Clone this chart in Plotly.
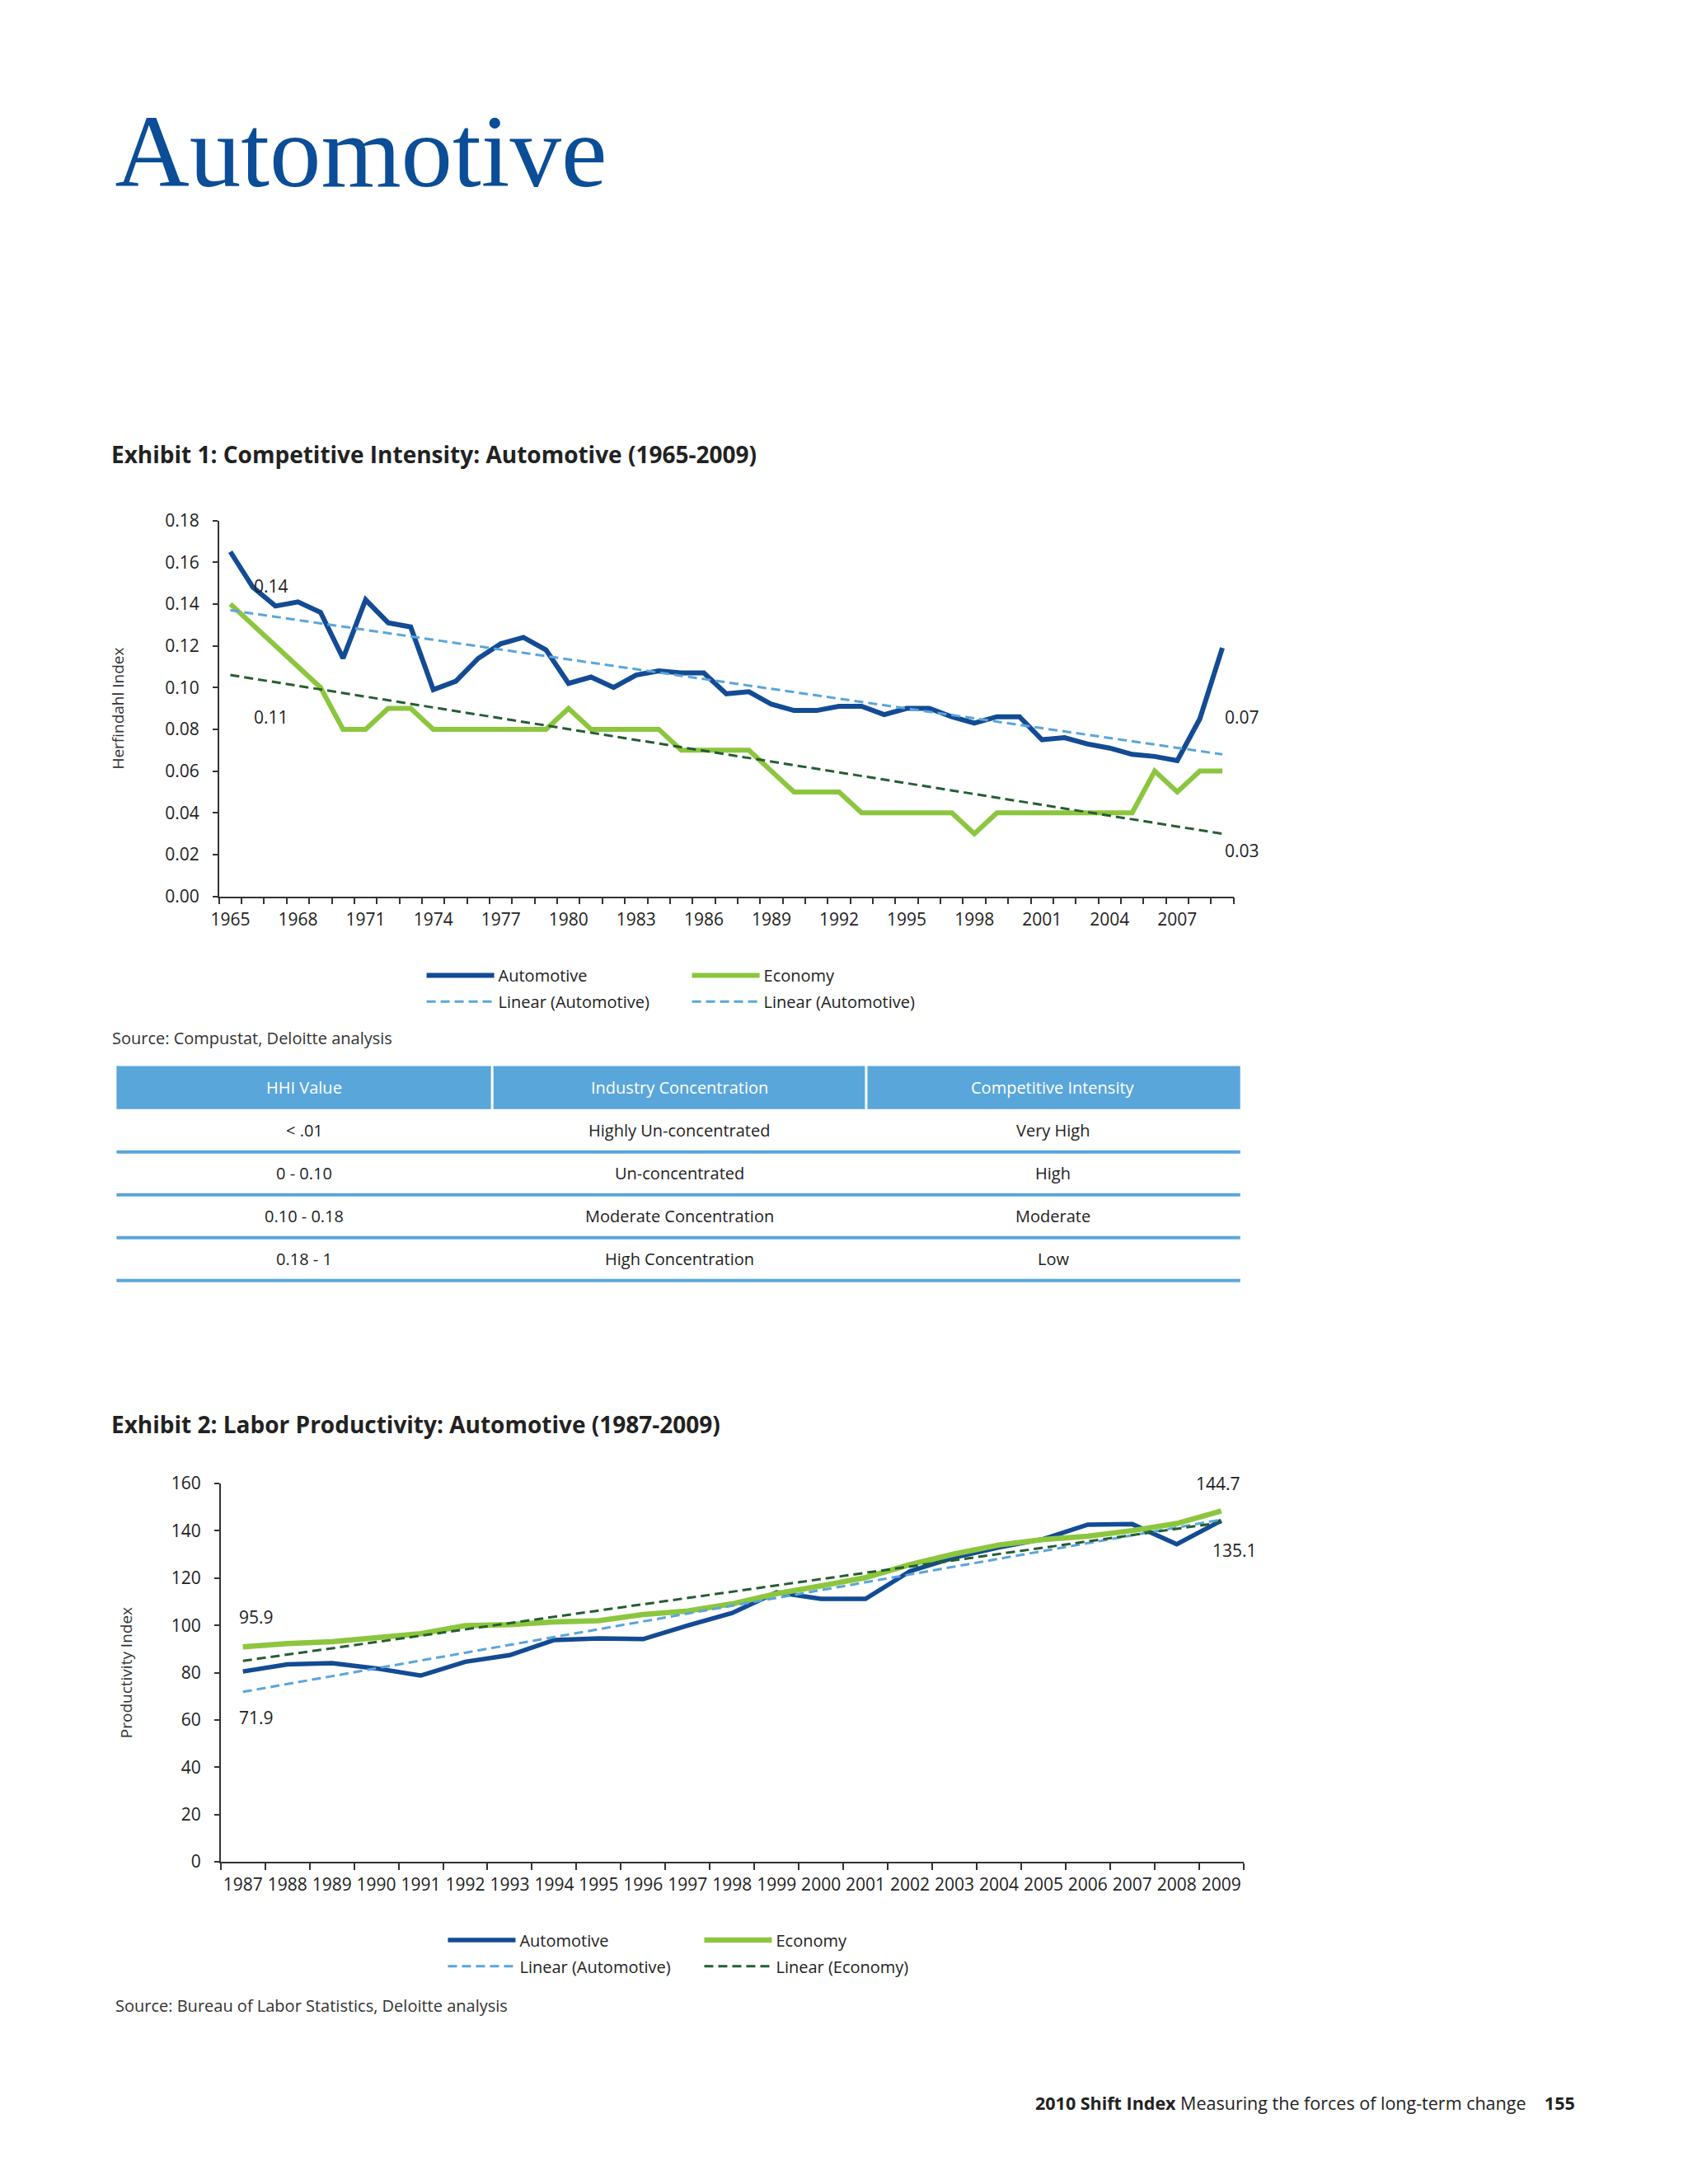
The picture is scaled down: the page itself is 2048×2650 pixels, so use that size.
import plotly.graph_objects as go

W, H = 2048, 2650


def px(x):
    return x / W


def py(y):
    return 1 - y / H


# ---------------- Exhibit 1 data ----------------
hhi_years = list(range(1965, 2010))
hhi_automotive = [0.165, 0.148, 0.139, 0.141, 0.136, 0.114, 0.142, 0.131, 0.129, 0.099,
                  0.103, 0.114, 0.121, 0.124, 0.118, 0.102, 0.105, 0.100, 0.106, 0.108,
                  0.107, 0.107, 0.097, 0.098, 0.092, 0.089, 0.089, 0.091, 0.091, 0.087,
                  0.090, 0.090, 0.086, 0.083, 0.086, 0.086, 0.075, 0.076, 0.073, 0.071,
                  0.068, 0.067, 0.065, 0.085, 0.119]
hhi_economy = [0.14, 0.13, 0.12, 0.11, 0.10, 0.08, 0.08, 0.09, 0.09, 0.08,
               0.08, 0.08, 0.08, 0.08, 0.08, 0.09, 0.08, 0.08, 0.08, 0.08,
               0.07, 0.07, 0.07, 0.07, 0.06, 0.05, 0.05, 0.05, 0.04, 0.04,
               0.04, 0.04, 0.04, 0.03, 0.04, 0.04, 0.04, 0.04, 0.04, 0.04,
               0.04, 0.06, 0.05, 0.06, 0.06]
hhi_trend_years = [1965, 2009]
hhi_trend_automotive = [0.137, 0.068]
hhi_trend_economy = [0.106, 0.030]
hhi_tick_years = [1965, 1968, 1971, 1974, 1977, 1980, 1983, 1986, 1989, 1992,
                  1995, 1998, 2001, 2004, 2007]
hhi_y_ticks = [0.00, 0.02, 0.04, 0.06, 0.08, 0.10, 0.12, 0.14, 0.16, 0.18]
hhi_labels = ["0.14", "0.11", "0.07", "0.03"]

# ---------------- Exhibit 2 data ----------------
prod_years = list(range(1987, 2010))
prod_automotive = [80.5, 83.5, 84.0, 81.8, 78.8, 84.6, 87.4, 93.8, 94.5, 94.2,
                   99.9, 105.2, 114.0, 111.2, 111.2, 122.9, 128.7, 133.0, 136.5, 142.6,
                   142.8, 134.3, 144.3]
prod_economy = [90.9, 92.3, 93.1, 94.8, 96.5, 99.9, 100.3, 101.5, 102.0, 104.6,
                106.1, 109.1, 113.4, 116.7, 120.2, 125.7, 130.2, 134.0, 136.3, 137.7,
                140.1, 143.1, 148.4]
prod_trend_years = [1987, 2009]
prod_trend_automotive = [71.9, 144.7]
prod_trend_economy = [85.0, 143.5]
prod_y_ticks = [0, 20, 40, 60, 80, 100, 120, 140, 160]
prod_labels = ["95.9", "71.9", "144.7", "135.1"]

# ---------------- Table data ----------------
table_header = ["HHI Value", "Industry Concentration", "Competitive Intensity"]
table_hhi = ["< .01", "0 - 0.10", "0.10 - 0.18", "0.18 - 1"]
table_concentration = ["Highly Un-concentrated", "Un-concentrated",
                       "Moderate Concentration", "High Concentration"]
table_intensity = ["Very High", "High", "Moderate", "Low"]

# ---------------- Styles ----------------
C_AUTO = "#134b94"
C_ECON = "#8cc63f"
C_TREND_AUTO = "#5aa5da"
C_TREND_ECON = "#255e31"
C_TEXT = "#222222"
C_AXIS = "#333333"
FONT = "Open Sans"
DASH = "11px,6px"

fig = go.Figure()

# Exhibit 1 traces
fig.add_trace(go.Scatter(x=hhi_years, y=hhi_automotive, mode="lines", name="Automotive",
                         line=dict(color=C_AUTO, width=6), xaxis="x", yaxis="y",
                         legend="legend"))
fig.add_trace(go.Scatter(x=hhi_years, y=hhi_economy, mode="lines", name="Economy",
                         line=dict(color=C_ECON, width=6), xaxis="x", yaxis="y",
                         legend="legend"))
fig.add_trace(go.Scatter(x=hhi_trend_years, y=hhi_trend_automotive, mode="lines",
                         name="Linear (Automotive)",
                         line=dict(color=C_TREND_AUTO, width=3, dash=DASH),
                         xaxis="x", yaxis="y", legend="legend2"))
fig.add_trace(go.Scatter(x=hhi_trend_years, y=hhi_trend_economy, mode="lines",
                         name="Linear (Economy)", showlegend=False,
                         line=dict(color=C_TREND_ECON, width=3, dash=DASH),
                         xaxis="x", yaxis="y"))
# legend entry as printed in the original (second "Linear (Automotive)")
fig.add_trace(go.Scatter(x=[None], y=[None], mode="lines", name="Linear (Automotive)",
                         line=dict(color=C_TREND_AUTO, width=3, dash=DASH),
                         xaxis="x", yaxis="y", legend="legend2"))

# Exhibit 2 traces
fig.add_trace(go.Scatter(x=prod_years, y=prod_automotive, mode="lines", name="Automotive",
                         line=dict(color=C_AUTO, width=5.5), xaxis="x2", yaxis="y2",
                         legend="legend3"))
fig.add_trace(go.Scatter(x=prod_years, y=prod_economy, mode="lines", name="Economy",
                         line=dict(color=C_ECON, width=6.5), xaxis="x2", yaxis="y2",
                         legend="legend3"))
fig.add_trace(go.Scatter(x=prod_trend_years, y=prod_trend_automotive, mode="lines",
                         name="Linear (Automotive)",
                         line=dict(color=C_TREND_AUTO, width=3, dash=DASH),
                         xaxis="x2", yaxis="y2", legend="legend4"))
fig.add_trace(go.Scatter(x=prod_trend_years, y=prod_trend_economy, mode="lines",
                         name="Linear (Economy)",
                         line=dict(color=C_TREND_ECON, width=3, dash=DASH),
                         xaxis="x2", yaxis="y2", legend="legend4"))

tickfont = dict(family=FONT, size=21, color=C_TEXT)

common_x = dict(showline=True, linecolor=C_AXIS, linewidth=1.5, showgrid=False,
                zeroline=False, ticks="outside", ticklen=8, tickcolor="rgba(0,0,0,0)",
                tickfont=tickfont, fixedrange=True, tickmode="array")
common_y = dict(showline=True, linecolor=C_AXIS, linewidth=1.5, showgrid=False,
                zeroline=False, ticks="outside", ticklen=6, tickcolor=C_AXIS, tickwidth=1.5,
                tickfont=tickfont, fixedrange=True, tickmode="array",
                ticklabelstandoff=12)

fig.update_layout(
    width=W, height=H,
    margin=dict(l=0, r=0, t=0, b=0),
    paper_bgcolor="white", plot_bgcolor="white",
    font=dict(family=FONT, color=C_TEXT),
    title=dict(text="Automotive", x=px(122), xanchor="left", xref="paper",
               y=py(161), yanchor="middle", yref="paper",
               font=dict(family="Liberation Serif", size=125, color="#0b4d97")),
    xaxis=dict(common_x, domain=[px(249), px(1486)], range=[1964.5, 2009.5],
               tickvals=hhi_tick_years, ticktext=[str(v) for v in hhi_tick_years],
               anchor="y",
               minor=dict(tickmode="array",
                          tickvals=[v - 0.5 for v in hhi_years] + [hhi_years[-1] + 0.5],
                          ticks="outside", ticklen=8, tickcolor=C_AXIS, tickwidth=1.5,
                          showgrid=False)),
    yaxis=dict(common_y, domain=[py(1076), py(615)], range=[0, 0.18],
               tickvals=hhi_y_ticks, ticktext=[f"{v:.2f}" for v in hhi_y_ticks],
               anchor="x",
               title=dict(text="Herfindahl Index", standoff=45,
                          font=dict(family=FONT, size=19, color=C_AXIS))),
    xaxis2=dict(common_x, domain=[px(251), px(1498)], range=[1986.5, 2009.5],
                tickvals=prod_years, ticktext=[str(v) for v in prod_years],
                anchor="y2",
                minor=dict(tickmode="array",
                           tickvals=[v - 0.5 for v in prod_years] + [prod_years[-1] + 0.5],
                           ticks="outside", ticklen=8, tickcolor=C_AXIS, tickwidth=1.5,
                           showgrid=False)),
    yaxis2=dict(common_y, domain=[py(2260), py(1796)], range=[0, 160],
                tickvals=prod_y_ticks, ticktext=[str(v) for v in prod_y_ticks],
                anchor="x2",
                title=dict(text="Productivity Index", standoff=42,
                           font=dict(family=FONT, size=19, color=C_AXIS))),
)

ITEM_W = 82
legend_common = dict(orientation="h", xanchor="left", yanchor="middle",
                     entrywidthmode="pixels", bgcolor="rgba(0,0,0,0)", borderwidth=0,
                     itemwidth=ITEM_W,
                     font=dict(family=FONT, size=20, color=C_TEXT), traceorder="normal")
fig.update_layout(
    legend=dict(legend_common, x=px(589 - ITEM_W - 10), y=py(1173),
                entrywidth=322 - ITEM_W - 15),
    legend2=dict(legend_common, x=px(589 - ITEM_W - 10), y=py(1205),
                 entrywidth=322 - ITEM_W - 15),
    legend3=dict(legend_common, x=px(615 - ITEM_W - 10), y=py(2356),
                 entrywidth=311 - ITEM_W - 15),
    legend4=dict(legend_common, x=px(615 - ITEM_W - 10), y=py(2388),
                 entrywidth=311 - ITEM_W - 15),
)

ann = []


def text(t, x, y, size=20, color=C_TEXT, xanchor="left", bold=False, family=FONT):
    ann.append(dict(text=(f"<b>{t}</b>" if bold else t), x=px(x), y=py(y),
                    xref="paper", yref="paper", xanchor=xanchor, yanchor="middle",
                    showarrow=False, font=dict(family=family, size=size, color=color)))


text("Exhibit 1: Competitive Intensity: Automotive (1965-2009)", 116, 534, size=28,
     bold=True)
text("Source: Compustat, Deloitte analysis", 117, 1250, size=20, color="#333")
text("Exhibit 2: Labor Productivity: Automotive (1987-2009)", 116, 1723, size=28, bold=True)
text("Source: Bureau of Labor Statistics, Deloitte analysis", 121, 2436, size=20,
     color="#333")
ann.append(dict(text="<b>2010 Shift Index</b> Measuring the forces of long-term change"
                     "&nbsp;&nbsp;&nbsp;&nbsp;<b>155</b>",
                x=px(1904), y=py(2555), xref="paper", yref="paper", xanchor="right",
                yanchor="middle", showarrow=False,
                font=dict(family=FONT, size=21.5, color=C_TEXT)))

# chart value labels (data coordinates)
lab_font = dict(family=FONT, size=21, color=C_TEXT)
hhi_label_pos = [(1966.8, 0.1486, "center"), (1966.8, 0.0857, "center"),
                 (2009.05, 0.0857, "left"), (2009.05, 0.0221, "left")]
for t, (x, y, xa) in zip(hhi_labels, hhi_label_pos):
    ann.append(dict(text=t, x=x, y=y, xref="x", yref="y", xanchor=xa, yanchor="middle",
                    showarrow=False, font=lab_font))
prod_label_pos = [(1986.88, 103.7, "left"), (1986.88, 61.1, "left"),
                  (2008.94, 160.0, "center"), (2009.3, 131.8, "center")]
for t, (x, y, xa) in zip(prod_labels, prod_label_pos):
    ann.append(dict(text=t, x=x, y=y, xref="x2", yref="y2", xanchor=xa, yanchor="middle",
                    showarrow=False, font=lab_font))

# ---------------- Table ----------------
shapes = []
col_edges = [124, 582, 1038, 1494]
head_top, head_bot = 1284, 1337
row_h = 52.5
C_HEAD = "#59a6db"
for i, h in enumerate(table_header):
    x0 = col_edges[i] + (0 if i == 0 else 1.5)
    x1 = col_edges[i + 1] - (0 if i == 2 else 1.5)
    shapes.append(dict(type="rect", xref="paper", yref="paper", x0=px(x0), x1=px(x1),
                       y0=py(head_bot), y1=py(head_top), fillcolor=C_HEAD,
                       line=dict(width=0), layer="below"))
    text(h, (col_edges[i] + col_edges[i + 1]) / 2, (head_top + head_bot) / 2, size=20,
         color="white", xanchor="center")

for r, row in enumerate(zip(table_hhi, table_concentration, table_intensity)):
    yc = head_bot + row_h * (r + 0.5)
    yl = head_bot + row_h * (r + 1)
    for i, cell in enumerate(row):
        text(cell, (col_edges[i] + col_edges[i + 1]) / 2, yc, size=20, xanchor="center")
    shapes.append(dict(type="line", xref="paper", yref="paper", x0=px(col_edges[0]),
                       x1=px(col_edges[-1]), y0=py(yl), y1=py(yl),
                       line=dict(color=C_HEAD, width=4)))

fig.update_layout(annotations=ann, shapes=shapes)

fig.write_html("out.html")
